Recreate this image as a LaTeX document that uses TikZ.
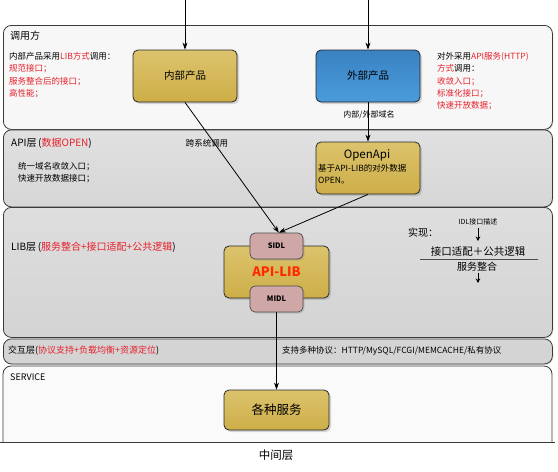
\documentclass[tikz,border=0pt]{standalone}
\usepackage{fontspec}
\setmainfont{Noto Sans CJK SC}
\usetikzlibrary{arrows.meta,shadows}
\definecolor{gold}{HTML}{D8BC5C}
\definecolor{goldB}{HTML}{CDAE48}
\definecolor{blueT}{HTML}{3A82C2}
\definecolor{blueB}{HTML}{4A9BDB}
\definecolor{pinkbox}{HTML}{CFA7A7}
\definecolor{redtxt}{HTML}{E8202A}
\definecolor{libred}{HTML}{FF2A00}
\definecolor{edge}{HTML}{3A3A3A}
\newcommand{\rt}[1]{\textcolor{redtxt}{#1}}
\tikzset{
  panel/.style={draw=edge, line width=0.8pt, rounded corners=8pt, anchor=north west, inner sep=0pt, drop shadow={shadow xshift=1pt, shadow yshift=-1pt, opacity=0.25}},
  box/.style={draw=black!85, line width=0.8pt, rounded corners=5pt, minimum width=104pt, minimum height=52pt, inner sep=0pt, drop shadow={shadow xshift=2pt, shadow yshift=-2pt, opacity=0.3}},
  goldbox/.style={box, top color=gold!90!white, bottom color=goldB},
  idl/.style={draw=black!70, line width=0.7pt, rounded corners=5pt, fill=pinkbox, minimum width=53pt, minimum height=26pt, inner sep=0pt, font=\fontsize{7.5}{8}\selectfont\bfseries, drop shadow={shadow xshift=1.5pt, shadow yshift=-1.5pt, opacity=0.3}},
  txt/.style={inner sep=0pt, font=\fontsize{8.5}{12.4}\selectfont, align=left},
  ttl/.style={inner sep=0pt, font=\fontsize{10}{12}\selectfont, anchor=west},
  conn/.style={line width=0.8pt, -{Stealth[length=7pt,width=5pt]}},
  line/.style={line width=0.8pt}
}
\begin{document}
\begin{tikzpicture}[x=1pt,y=-1pt]
\useasboundingbox[fill=white] (0,0) rectangle (558,472);

% panels
\node[panel, fill=black!3, minimum width=549pt, minimum height=104pt] (p1) at (3,25) {};
\node[panel, top color=black!12, bottom color=black!16, minimum width=549pt, minimum height=77pt] (p2) at (3,129.5) {};
\node[panel, top color=black!13, bottom color=black!17, minimum width=549pt, minimum height=130pt] (p3) at (3,207) {};
\node[panel, fill=black!17, minimum width=549pt, minimum height=25pt] (p4) at (3,338.5) {};
\fill[black!2] (3,442) -- (3,374) arc[start angle=180,end angle=90,radius=8pt] -- (544,366) arc[start angle=90,end angle=0,radius=8pt] -- (552,442) -- cycle;
\draw[line, draw=edge, rounded corners=8pt] (3,442) -- (3,366) -- (552,366) -- (552,442);
\draw[line, draw=edge] (0,442) -- (555,442);

% panel titles
\node[ttl] (t1) at (10,36) {调用方};
\node[ttl] (t2) at (11,143) {API层\,(\rt{数据OPEN})};
\node[ttl] (t3) at (11,247) {LIB层\,(\rt{服务整合+接口适配+公共逻辑})};
\node[ttl, font=\fontsize{9}{11}\selectfont] (t4) at (8,351) {交互层(\rt{协议支持+负载均衡+资源定位})};
\node[ttl, font=\fontsize{9}{11}\selectfont] (t5) at (10,377) {SERVICE};
\node[ttl, anchor=center, font=\fontsize{11.5}{13}\selectfont] (cap) at (276,455) {中间层};

% panel 1 texts
\node[txt, anchor=north west] (lt) at (9,52) {内部产品采用\rt{LIB方式}调用：\\\rt{规范接口；}\\\rt{服务整合后的接口；}\\\rt{高性能；}};
\node[txt, anchor=north west] (rtx) at (437,52) {对外采用\rt{API服务(HTTP)}\\\rt{方式}调用：\\\rt{收敛入口；}\\\rt{标准化接口；}\\\rt{快速开放数据；}};

% panel 2 texts
\node[txt, anchor=north west] (at) at (18,162) {统一域名收敛入口；\\快速开放数据接口；};
\node[txt, anchor=center, font=\fontsize{8.5}{9}\selectfont] (kx) at (207,143) {跨系统调用};

% boxes
\node[goldbox] (inner) at (185,76) {\fontsize{10.5}{12}\selectfont 内部产品};
\node[box, top color=blueT, bottom color=blueB] (outer) at (368,76) {\fontsize{10.5}{12}\selectfont 外部产品};
\node[goldbox] (openapi) at (368,168) {};
\node[inner sep=0pt, font=\fontsize{11.5}{13}\selectfont] (oa1) at (367,155) {OpenApi};
\node[txt, anchor=north west, font=\fontsize{8.5}{12}\selectfont] (oa2) at (318,164.5) {基于API-LIB的对外数据\\OPEN。};
\node[goldbox, minimum width=105pt] (apilib) at (276.5,272) {\fontsize{13}{15}\selectfont\bfseries\textcolor{libred}{API-LIB}};
\node[idl] (sidl) at (276.5,246) {SIDL};
\node[idl] (midl) at (276.5,299) {MIDL};
\node[goldbox, minimum width=105pt, minimum height=40pt] (svc) at (276.5,410) {\fontsize{12.5}{14}\selectfont 各种服务};

% connectors
\coordinate (in0) at (185,0);
\coordinate (out0) at (368,0);
\draw[conn] (in0) -- (inner.north);
\draw[conn] (out0) -- (outer.north);
\draw[conn] (outer.south) -- (openapi.north);
\node[inner sep=0pt, font=\fontsize{8}{9}\selectfont] (dm) at (369,115) {内部/外部域名};
\draw[conn] (inner.south) -- (sidl.80);
\draw[conn] (openapi.south) -- (sidl.80);
\draw[conn] (midl.south) -- (svc.north);

% interaction text
\node[ttl, font=\fontsize{8.5}{10}\selectfont] (proto) at (282,351) {支持多种协议：HTTP/MySQL/FCGI/MEMCACHE/私有协议};

% 实现 area
\node[ttl, font=\fontsize{10}{11}\selectfont] (sx) at (408,233) {实现：};
\node[inner sep=0pt, font=\fontsize{7}{8}\selectfont] (idld) at (478,222) {IDL接口描述};
\node[inner sep=0pt, font=\fontsize{10.5}{12}\selectfont] (jk) at (478,252) {接口适配＋公共逻辑};
\node[inner sep=0pt, font=\fontsize{10}{11}\selectfont] (fw) at (477,267) {服务整合};
\coordinate (hl1) at (420,259.5);
\coordinate (hl2) at (538,259.5);
\draw[line, black!70, line width=1pt] (hl1) -- (hl2);
\coordinate (a1s) at (478,228);
\coordinate (a1e) at (478,241);
\coordinate (a2s) at (478,273);
\coordinate (a2e) at (478,283);
\draw[line, -{Stealth[length=4.5pt,width=4.5pt]}] (a1s) -- (a1e);
\draw[line, -{Stealth[length=4.5pt,width=4.5pt]}] (a2s) -- (a2e);
\end{tikzpicture}
\end{document}
